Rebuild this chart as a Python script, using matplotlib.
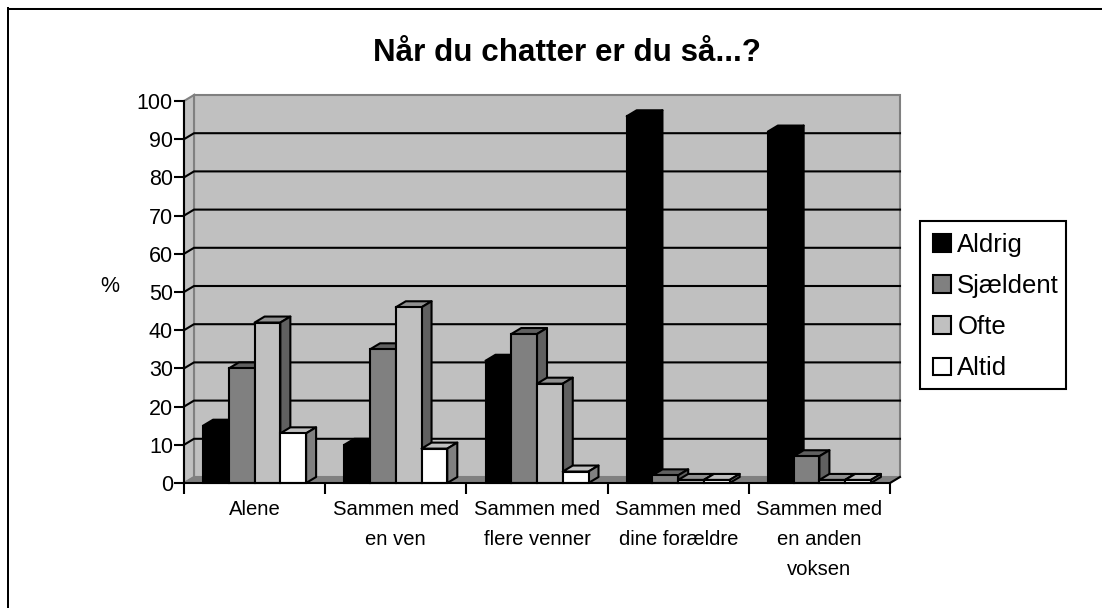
import numpy as np
import matplotlib
matplotlib.use('Agg')
import matplotlib.pyplot as plt
from matplotlib.lines import Line2D
from matplotlib.patches import Polygon, Rectangle

plt.rcParams['font.family'] = ['Liberation Sans', 'DejaVu Sans']

# -----------------------------------------------------------------------------
# data
# -----------------------------------------------------------------------------
categories = ['Alene', 'Sammen med\nen ven', 'Sammen med\nflere venner',
              'Sammen med\ndine forældre', 'Sammen med\nen anden\nvoksen']
series_names = ['Aldrig', 'Sjældent', 'Ofte', 'Altid']
aldrig = [15, 10, 32, 96, 92]
sjaeldent = [30, 35, 39, 2, 7]
ofte = [42, 46, 26, 0.8, 0.8]
altid = [13, 9, 3, 0.8, 0.8]
y_ticks = list(range(0, 101, 10))

# -----------------------------------------------------------------------------
# styles: front, top, side
# -----------------------------------------------------------------------------
faces = [('#000000', '#000000', '#000000'),
         ('#808080', '#606060', '#606060'),
         ('#c0c0c0', '#909090', '#606060'),
         ('#ffffff', '#c0c0c0', '#808080')]

W, H = 1102, 608
fig = plt.figure(figsize=(W / 100, H / 100), dpi=100)

# chart border, only the top and left edges are inside the picture
fig.add_artist(Line2D([8 / W, 1], [1 - 7.8 / H, 1 - 7.8 / H], color='#c8c8c8', lw=0.8))
fig.add_artist(Line2D([8 / W, 1], [1 - 9 / H, 1 - 9 / H], color='black', lw=1.44))
fig.add_artist(Line2D([8 / W, 8 / W], [0, 1 - 8.3 / H], color='black', lw=1.44))

# axes = front plane of the 3d box
x0, x1, y_top, y_bot = 184, 890, 101, 483
ax = fig.add_axes([x0 / W, 1 - y_bot / H, (x1 - x0) / W, (y_bot - y_top) / H])
ax.set_xlim(0, 5)
ax.set_ylim(0, 100)
ax.patch.set_visible(False)

# depth of the box in data units
dx = 10 / ((x1 - x0) / 5)
dy = 6 / ((y_bot - y_top) / 100)

# back wall, side wall, floor
ax.add_patch(Polygon([(dx, dy), (5 + dx, dy), (5 + dx, 100 + dy), (dx, 100 + dy)],
                     fc='#c0c0c0', ec='#808080', lw=1.5, clip_on=False, zorder=0))
ax.add_patch(Polygon([(0, 0), (dx, dy), (dx, 100 + dy), (0, 100)],
                     fc='#c0c0c0', ec='#808080', lw=1.5, clip_on=False, zorder=0))
ax.add_patch(Polygon([(0, 0), (5, 0), (5 + dx, dy), (dx, dy)],
                     fc='#808080', ec='#808080', lw=1, clip_on=False, zorder=0))

# gridlines run on the walls
for t in y_ticks[1:-1]:
    ax.plot([0, dx, 5 + dx], [t, t + dy, t + dy], color='black', lw=1.5,
            clip_on=False, zorder=1, solid_joinstyle='miter')

# bars
bar_w = 25.75 / ((x1 - x0) / 5)
xs = np.arange(len(categories))
all_values = [aldrig, sjaeldent, ofte, altid]
for s, values in enumerate(all_values):
    left = xs + (1 - 4 * bar_w) / 2 + s * bar_w
    front, top, side = faces[s]
    z = 3 + s * 0.01
    ax.bar(left, values, width=bar_w, align='edge', color=front, edgecolor='black',
           linewidth=1.5, zorder=z + 0.005, clip_on=False, label=series_names[s])
    for lx, v in zip(left, values):
        ax.add_patch(Polygon([(lx, v), (lx + bar_w, v), (lx + bar_w + dx, v + dy), (lx + dx, v + dy)],
                             fc=top, ec='black', lw=1.5, clip_on=False, zorder=z, joinstyle='round'))
        ax.add_patch(Polygon([(lx + bar_w, 0), (lx + bar_w + dx, dy), (lx + bar_w + dx, v + dy), (lx + bar_w, v)],
                             fc=side, ec='black', lw=1.5, clip_on=False, zorder=z, joinstyle='round'))

# axes lines and ticks
for name in ['top', 'right']:
    ax.spines[name].set_visible(False)
for name in ['left', 'bottom']:
    ax.spines[name].set_linewidth(1.5)
    ax.spines[name].set_zorder(5)
ax.set_yticks(y_ticks)
ax.set_xticks(range(6))
ax.set_xticklabels([])
ax.set_xticks(xs + 0.5, categories, minor=True)
ax.tick_params(axis='x', which='minor', length=0, pad=12, labelsize=14.6)
ax.tick_params(axis='x', which='major', length=8, width=1.5)
ax.tick_params(axis='y', length=7, width=1.5, labelsize=15.5, pad=1)
for lab in ax.get_xticklabels(minor=True):
    lab.set_linespacing(1.75)
    lab.set_va('top')

# front right corner stub of the floor
ax.plot([5, 5 + dx], [0, dy], color='black', lw=1.5, clip_on=False, zorder=5)

fig.text(566.5 / W, 1 - 61 / H, 'Når du chatter er du så...?', fontsize=22.6, fontweight='bold',
         ha='center', va='baseline')
fig.text(110 / W, 1 - 287 / H, '%', fontsize=15.5, ha='center', va='center')

# legend, the frame is drawn apart because its right padding is narrower than the left
fig.add_artist(Rectangle((920 / W, 1 - 389 / H), 146 / W, 168 / H, transform=fig.transFigure,
                         fill=False, ec='black', lw=1.5))
leg = ax.legend(loc='upper left', bbox_to_anchor=(920 / W, 1 - 220 / H), bbox_transform=fig.transFigure,
                ncol=1, frameon=False, fontsize=18.5,
                handlelength=0.7, handleheight=0.7, handletextpad=0.25, labelspacing=0.67,
                borderpad=0.5, borderaxespad=0)
leg.set_zorder(10)

fig.savefig('out.png', dpi=100)
